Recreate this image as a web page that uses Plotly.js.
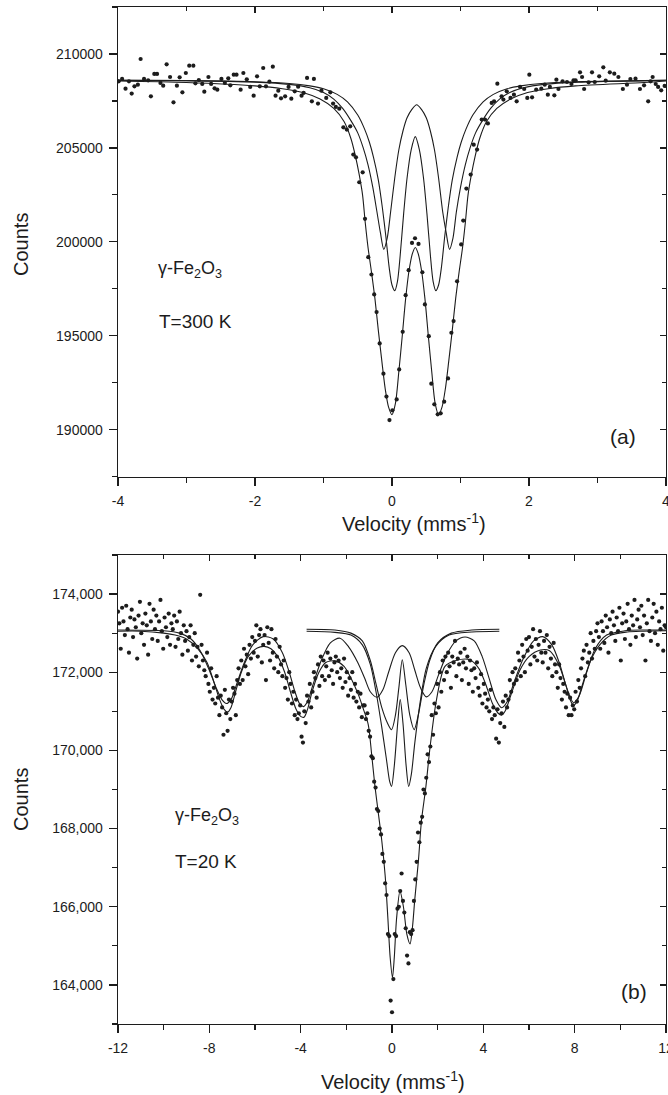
<!DOCTYPE html>
<html>
<head>
<meta charset="utf-8">
<script src="https://cdn.plot.ly/plotly-3.0.1.min.js"></script>
<style>html,body{margin:0;padding:0;background:#fff;}#chart{width:668px;height:1095px;}</style>
</head>
<body>
<div id="chart"></div>
<script>
// ---------- Panel (a): T = 300 K ----------
const velA = [-3.99,-3.94,-3.89,-3.84,-3.80,-3.76,-3.71,-3.67,-3.62,-3.56,-3.52,-3.47,-3.43,-3.38,-3.34,-3.29,-3.24,-3.19,-3.14,-3.10,
-3.06,-3.01,-2.96,-2.90,-2.87,-2.82,-2.77,-2.74,-2.68,-2.64,-2.59,-2.55,-2.49,-2.44,-2.39,-2.36,-2.31,-2.27,-2.21,-2.17,
-2.12,-2.07,-2.02,-1.97,-1.93,-1.88,-1.84,-1.79,-1.74,-1.70,-1.66,-1.62,-1.56,-1.51,-1.47,-1.42,-1.37,-1.32,-1.29,-1.24,
-1.17,-1.14,-1.08,-1.03,-0.96,-0.90,-0.86,-0.82,-0.77,-0.71,-0.66,-0.61,-0.565,-0.526,-0.478,-0.428,-0.394,-0.346,-0.30,-0.26,
-0.225,-0.18,-0.125,-0.081,-0.037,0.006,0.068,0.105,0.156,0.199,0.243,0.292,0.336,0.387,0.443,0.48,0.537,0.574,0.618,0.667,
0.711,0.762,0.818,0.867,0.899,0.95,1.01,1.04,1.086,1.149,1.193,1.242,1.31,1.358,1.40,1.455,1.49,1.538,1.60,1.626,
1.675,1.73,1.78,1.82,1.87,1.93,1.975,2.005,2.045,2.105,2.18,2.23,2.275,2.305,2.37,2.40,2.43,2.49,2.555,2.62,
2.65,2.68,2.745,2.775,2.805,2.87,2.92,2.96,3.025,3.085,3.12,3.18,3.245,3.305,3.37,3.43,3.48,3.555,3.62,3.68,
3.74,3.775,3.805,3.85,3.885,3.93,3.98];
const countsA = [208545,208669,208155,208545,207889,208279,208367,209732,208669,208598,207747,208935,208935,208456,208314,209449,208775,207428,208314,208757,
207960,208988,209378,209378,208438,208615,208403,207995,208775,208403,208172,208101,208669,208456,208704,208332,208899,208899,208101,208988,
208651,208243,207782,208811,208279,209254,208279,208527,209325,207782,208048,207640,207747,208243,207622,208013,208261,207782,207924,208722,
207479,208670,207357,208048,207660,207958,207357,207181,207090,206096,205974,206150,204644,204500,203170,203702,201224,199181,198261,197200,
196260,194590,192980,191760,190510,191030,191610,193210,195210,197160,198490,199940,200190,199890,198380,196670,194980,192450,191350,190815,
190870,191490,192730,195160,195780,197900,199860,201130,202835,203580,205170,204910,206510,206510,206300,207394,207480,208420,207745,207570,
208010,207660,207835,207479,208245,208136,207658,208899,207693,208101,208154,208367,207835,208243,207800,208633,208136,208544,208509,208400,
208597,208597,209023,208775,208136,208491,209023,208509,208810,209289,208580,209023,208952,208775,208136,208367,208668,208686,208136,208331,
207481,208544,208775,208400,208243,208065,208300];

// total fit (a)
const fitTotVelA = [-4,-3,-2,-1.6,-1.3,-1.05,-0.85,-0.7,-0.6,-0.53,-0.48,-0.43,-0.39,-0.35,-0.3,-0.25,-0.2,-0.15,-0.1,-0.05,
0,0.05,0.1,0.15,0.2,0.25,0.3,0.34,0.38,0.43,0.48,0.53,0.58,0.63,0.68,0.73,0.78,0.83,0.88,0.93,
0.98,1.03,1.07,1.11,1.16,1.21,1.28,1.38,1.53,1.73,1.98,2.28,2.68,3.68,4];
const fitTotCntA = [208560,208480,208300,208150,207950,207600,207100,206400,205500,204500,203600,202500,201000,199700,198400,197000,195300,193700,192200,191200,
190800,191400,193100,195000,197000,198500,199400,199700,199400,198500,197000,195000,193100,191400,190800,191200,192200,193700,195300,197000,
198400,199700,201000,202500,203600,204500,205500,206400,207100,207600,207950,208150,208300,208480,208560];
// sub-spectrum 1 (a) – wider doublet
const fitS1VelA = [-4,-3,-2,-1.5,-1.2,-1.0,-0.85,-0.72,-0.6,-0.5,-0.42,-0.35,-0.28,-0.22,-0.17,-0.12,-0.07,-0.02,0.04,0.1,
0.16,0.22,0.29,0.36,0.43,0.5,0.56,0.62,0.68,0.74,0.79,0.84,0.89,0.94,1.0,1.07,1.14,1.22,1.32,1.44,
1.57,1.72,1.92,2.22,2.72,3.72,4];
const fitS1CntA = [208600,208580,208500,208380,208200,207950,207600,207100,206450,205800,205000,204100,202900,201600,200500,199600,200200,201600,203400,204900,
205900,206600,207050,207300,207050,206600,205900,204900,203400,201600,200500,199600,200200,201600,202900,204100,205000,205800,206450,207100,
207600,207950,208200,208380,208500,208580,208600];
// sub-spectrum 2 (a) – narrower doublet
const fitS2VelA = [-4,-3,-2,-1.5,-1.2,-1.0,-0.8,-0.65,-0.5,-0.4,-0.33,-0.27,-0.2,-0.14,-0.09,-0.04,0,0.04,0.08,0.12,
0.17,0.22,0.28,0.34,0.40,0.46,0.51,0.56,0.60,0.64,0.68,0.72,0.77,0.82,0.88,0.95,1.01,1.08,1.18,1.33,
1.48,1.68,1.88,2.18,2.68,3.68,4];
const fitS2CntA = [208600,208580,208520,208430,208300,208150,207850,207450,206750,206000,205300,204500,203300,201800,200300,198600,197700,197400,197900,199300,
201500,203400,204900,205600,204900,203400,201500,199300,197900,197400,197700,198600,200300,201800,203300,204500,205300,206000,206750,207450,
207850,208150,208300,208430,208520,208580,208600];

// ---------- Panel (b): T = 20 K ----------
const velB = [-12,-11.94,-11.88,-11.82,-11.76,-11.7,-11.64,-11.58,-11.52,-11.46,
-11.4,-11.34,-11.28,-11.22,-11.16,-11.1,-11.04,-10.98,-10.92,-10.86,
-10.8,-10.74,-10.68,-10.62,-10.56,-10.5,-10.44,-10.38,-10.32,-10.26,
-10.2,-10.14,-10.08,-10.02,-9.96,-9.9,-9.84,-9.78,-9.72,-9.66,
-9.6,-9.54,-9.48,-9.42,-9.36,-9.3,-9.24,-9.18,-9.12,-9.06,
-9,-8.94,-8.88,-8.82,-8.76,-8.7,-8.64,-8.58,-8.52,-8.46,
-8.4,-8.34,-8.28,-8.22,-8.16,-8.1,-8.04,-7.98,-7.92,-7.86,
-7.8,-7.74,-7.68,-7.62,-7.56,-7.5,-7.44,-7.38,-7.32,-7.26,
-7.2,-7.14,-7.08,-7.02,-6.96,-6.9,-6.84,-6.78,-6.72,-6.66,
-6.6,-6.54,-6.48,-6.42,-6.36,-6.3,-6.24,-6.18,-6.12,-6.06,
-6,-5.94,-5.88,-5.82,-5.76,-5.7,-5.64,-5.58,-5.52,-5.46,
-5.4,-5.34,-5.28,-5.22,-5.16,-5.1,-5.04,-4.98,-4.92,-4.86,
-4.8,-4.74,-4.68,-4.62,-4.56,-4.5,-4.44,-4.38,-4.32,-4.26,
-4.2,-4.14,-4.08,-4.02,-3.96,-3.9,-3.84,-3.78,-3.72,-3.66,
-3.6,-3.54,-3.48,-3.42,-3.36,-3.3,-3.24,-3.18,-3.12,-3.06,
-3,-2.94,-2.88,-2.82,-2.76,-2.7,-2.64,-2.58,-2.52,-2.46,
-2.4,-2.34,-2.28,-2.22,-2.16,-2.1,-2.04,-1.98,-1.92,-1.86,
-1.8,-1.74,-1.68,-1.62,-1.56,-1.5,-1.44,-1.38,-1.32,-1.26,
-1.2,-1.14,-1.08,-1.02,-0.96,-0.9,-0.84,-0.78,-0.72,-0.66,
-0.6,-0.54,-0.48,-0.42,-0.36,-0.3,-0.24,-0.18,-0.12,-0.06,
0,0.06,0.12,0.18,0.24,0.3,0.36,0.42,0.48,0.54,
0.6,0.66,0.72,0.78,0.84,0.9,0.96,1.02,1.08,1.14,
1.2,1.26,1.32,1.38,1.44,1.5,1.56,1.62,1.68,1.74,
1.8,1.86,1.92,1.98,2.04,2.1,2.16,2.22,2.28,2.34,
2.4,2.46,2.52,2.58,2.64,2.7,2.76,2.82,2.88,2.94,
3,3.06,3.12,3.18,3.24,3.3,3.36,3.42,3.48,3.54,
3.6,3.66,3.72,3.78,3.84,3.9,3.96,4.02,4.08,4.14,
4.2,4.26,4.32,4.38,4.44,4.5,4.56,4.62,4.68,4.74,
4.8,4.86,4.92,4.98,5.04,5.1,5.16,5.22,5.28,5.34,
5.4,5.46,5.52,5.58,5.64,5.7,5.76,5.82,5.88,5.94,
6,6.06,6.12,6.18,6.24,6.3,6.36,6.42,6.48,6.54,
6.6,6.66,6.72,6.78,6.84,6.9,6.96,7.02,7.08,7.14,
7.2,7.26,7.32,7.38,7.44,7.5,7.56,7.62,7.68,7.74,
7.8,7.86,7.92,7.98,8.04,8.1,8.16,8.22,8.28,8.34,
8.4,8.46,8.52,8.58,8.64,8.7,8.76,8.82,8.88,8.94,
9,9.06,9.12,9.18,9.24,9.3,9.36,9.42,9.48,9.54,
9.6,9.66,9.72,9.78,9.84,9.9,9.96,10.02,10.08,10.14,
10.2,10.26,10.32,10.38,10.44,10.5,10.56,10.62,10.68,10.74,
10.8,10.86,10.92,10.98,11.04,11.1,11.16,11.22,11.28,11.34,
11.4,11.46,11.52,11.58,11.64,11.7,11.76,11.82,11.88,11.94,
12];
const countsB = [173550,173250,172600,173650,173300,172950,173700,173100,172500,173400,
173600,172900,173350,173150,172350,173450,173800,173000,173250,172700,
173500,173200,172450,173750,173300,172850,173600,173100,173450,172800,
173300,173850,173050,172600,173400,173150,172900,173500,172700,173250,
173100,173450,172650,173300,172850,173550,173000,172450,173200,172800,
173050,172550,172900,173200,172300,172700,173000,172400,172650,172150,
173980,172700,172300,172050,171900,172500,171700,171500,172100,171300,
171600,171200,171900,171350,170900,171400,171100,170400,171550,170950,
170500,171300,170800,171250,171600,171450,170900,171800,172100,171700,
172300,171800,172600,172150,172450,171950,172700,172350,172900,172500,
172800,173200,172400,172950,173100,172250,172700,172950,171800,173150,
172750,172300,173100,172500,172100,172850,172400,172000,172650,172200,
171900,172300,171600,171850,171300,172000,171700,171200,171500,170900,
171300,170800,170950,171150,170350,170200,171000,170700,171400,171250,
171700,171100,171500,172000,171850,171350,172200,171650,172400,171900,
172300,171800,172150,172500,171900,172350,172050,171700,172250,172400,
172000,172300,171850,172100,171600,172350,171750,172000,171400,171850,
171550,172000,171350,171700,171250,171500,171100,171450,170850,171150,
171150,170800,170950,170500,170350,169850,169800,169200,169050,168500,
168450,168000,167850,167350,167150,166600,166300,165300,165250,163600,
163300,164150,165300,165250,165950,166000,166400,166850,166150,165850,
165450,164750,164550,165350,165300,165400,166150,166700,167150,167900,
167650,168150,168300,169000,168900,169300,169900,169700,170100,170900,
170400,171200,170950,171700,171100,172000,171500,172300,171800,172400,
172000,172500,172150,171600,172400,172250,172800,171900,172350,172200,
172500,171800,172250,172600,172100,172400,171700,172300,172050,171500,
172100,171850,172250,171600,171400,171950,171200,171700,171450,171100,
171300,171000,171550,170800,171100,170900,170300,171050,170200,170700,
170950,171250,170600,171400,171100,171300,171800,171500,172000,171700,
172100,171800,172500,172300,171900,172700,172400,172000,172850,172550,
172900,172200,172650,173100,172400,172850,172300,172700,173050,172500,
172250,172800,172500,172950,172100,172650,172350,171900,172750,172200,
172000,171600,172200,171850,171300,171700,171500,171100,171450,170900,
171350,170900,171150,171050,171500,171250,171800,171600,172100,172350,
172550,171900,172700,172250,172500,173000,172350,172800,172600,173050,
173250,172900,172600,173300,173050,172750,173450,173150,172500,173350,
173000,173550,173200,172800,173400,173050,173650,172300,173250,173500,
172850,173300,173750,173100,172700,173450,173200,173850,172900,173350,
173600,173150,173700,172950,173450,172300,173250,173850,173050,172800,
173400,173750,173000,173550,172700,173300,173100,173650,172550,173200,
173150];

// total fit (b)
const fitTotVelB = [-12,-11,-10,-9.5,-9.0,-8.5,-8.1,-7.8,-7.55,-7.35,-7.2,-7.05,-6.85,-6.6,-6.3,-5.9,-5.6,-5.3,-5.0,-4.7,
-4.45,-4.2,-4.0,-3.85,-3.7,-3.5,-3.2,-2.9,-2.5,-2.1,-1.8,-1.47,-1.25,-1.04,-0.89,-0.75,-0.6,-0.45,-0.3,-0.18,
-0.08,0.02,0.1,0.2,0.35,0.5,0.65,0.79,0.9,1.0,1.16,1.29,1.48,1.67,1.95,2.32,2.8,3.4,3.8,4.1,
4.4,4.65,4.8,4.95,5.2,5.6,6.0,6.5,6.9,7.3,7.6,7.8,7.95,8.1,8.35,8.7,9.1,9.6,10.3,11,12];
const fitTotCntB = [173050,173050,173000,172950,172850,172600,172250,171750,171300,171050,170980,171100,171500,172000,172400,172620,172660,172600,172400,172000,
171500,171050,170870,170850,171050,171500,172000,172250,172290,172150,171850,171420,171050,170660,169890,169100,168400,167700,166800,165700,
164700,164190,164700,165700,166400,166000,165300,165050,165500,166200,167200,168200,169050,170100,171300,172150,172300,172320,172100,171700,
171200,170950,170900,171000,171400,172050,172400,172570,172550,172200,171700,171300,171150,171250,171700,172300,172700,172950,173030,173050,173060];
// magnetic sextet sub-spectrum (b)
const fitSextVelB = [-12,-10,-9.3,-8.8,-8.4,-8.0,-7.7,-7.45,-7.25,-7.05,-6.8,-6.5,-6.1,-5.64,-5.2,-4.8,-4.5,-4.25,-4.05,-3.88,
-3.7,-3.45,-3.1,-2.7,-2.28,-1.9,-1.5,-1.2,-0.95,-0.65,-0.4,-0.15,0.15,0.45,0.75,1.0,1.25,1.5,1.75,2.05,
2.4,2.8,3.2,3.6,3.95,4.25,4.55,4.8,5.05,5.35,5.75,6.2,6.6,7.0,7.35,7.65,7.95,8.2,8.5,8.9,
9.4,10.2,11,12];
const fitSextCntB = [173080,173060,173000,172850,172550,172050,171600,171300,171200,171300,171700,172200,172700,172910,172850,172500,172000,171500,171200,171120,
171250,171700,172300,172750,172870,172650,172250,171850,171500,171360,171550,172000,172500,172680,172500,172050,171600,171370,171500,171950,
172450,172800,172900,172800,172400,171850,171300,171090,171250,171750,172350,172800,172910,172700,172200,171600,171220,171400,171950,172600,
172950,173060,173080,173080];
// doublet sub-spectra (b)
const fitDb1VelB = [-3.74,-2.5,-1.8,-1.3,-0.95,-0.7,-0.45,-0.2,-0.02,0.15,0.3,0.45,0.6,0.78,0.97,1.15,1.4,1.65,2.0,2.6,3.5,4.7];
const fitDb1CntB = [173100,173080,173000,172800,172300,171700,171100,170700,170530,170900,171600,172320,171700,170900,170530,170900,171700,172300,172750,173000,173080,173100];
const fitDb2VelB = [-3.74,-2.5,-1.8,-1.3,-0.95,-0.7,-0.45,-0.25,-0.1,-0.02,0.1,0.25,0.36,0.48,0.62,0.73,0.85,1.0,1.25,1.5,1.9,2.5,3.5,4.7];
const fitDb2CntB = [173050,173020,172950,172700,172200,171500,170600,169800,169200,169080,169600,170700,171300,170700,169600,169080,169400,170200,171300,172100,172650,172950,173030,173050];

// ---------- ticks ----------
const xTicksA = [-4,-2,0,2,4];
const xTickTextA = ['-4','-2','0','2','4'];
const yTicksA = [190000,195000,200000,205000,210000];
const yTickTextA = ['190000','195000','200000','205000','210000'];
const xTicksB = [-12,-8,-4,0,4,8,12];
const xTickTextB = ['-12','-8','-4','0','4','8','12'];
const yTicksB = [164000,166000,168000,170000,172000,174000];
const yTickTextB = ['164,000','166,000','168,000','170,000','172,000','174,000'];

// ---------- drawing ----------
const INK = '#1c1c1c';
const FONT = 'Liberation Sans, Arial, Helvetica, sans-serif';
function fitLine(x, y, xa, ya) {
  return {x: x, y: y, xaxis: xa, yaxis: ya, mode: 'lines', type: 'scatter',
    line: {color: INK, width: 1.1, shape: 'spline', smoothing: 0.8}, hoverinfo: 'skip'};
}
function dots(x, y, xa, ya) {
  return {x: x, y: y, xaxis: xa, yaxis: ya, mode: 'markers', type: 'scatter',
    marker: {color: INK, size: 4.2}, hoverinfo: 'skip'};
}
const traces = [
  fitLine(fitTotVelA, fitTotCntA, 'x', 'y'),
  fitLine(fitS1VelA, fitS1CntA, 'x', 'y'),
  fitLine(fitS2VelA, fitS2CntA, 'x', 'y'),
  dots(velA, countsA, 'x', 'y'),
  fitLine(fitTotVelB, fitTotCntB, 'x2', 'y2'),
  fitLine(fitSextVelB, fitSextCntB, 'x2', 'y2'),
  fitLine(fitDb1VelB, fitDb1CntB, 'x2', 'y2'),
  fitLine(fitDb2VelB, fitDb2CntB, 'x2', 'y2'),
  dots(velB, countsB, 'x2', 'y2'),
  {x: [], y: [], xaxis: 'x3', yaxis: 'y', type: 'scatter', mode: 'markers', hoverinfo: 'skip'},
  {x: [], y: [], xaxis: 'x', yaxis: 'y3', type: 'scatter', mode: 'markers', hoverinfo: 'skip'},
  {x: [], y: [], xaxis: 'x4', yaxis: 'y2', type: 'scatter', mode: 'markers', hoverinfo: 'skip'},
  {x: [], y: [], xaxis: 'x2', yaxis: 'y4', type: 'scatter', mode: 'markers', hoverinfo: 'skip'}
];

function mainAxis(extra) {
  return Object.assign({
    showline: true, linecolor: INK, linewidth: 1.4, mirror: true,
    ticks: 'outside', ticklen: 8, tickwidth: 1.2, tickcolor: INK,
    showgrid: false, zeroline: false, fixedrange: true, ticklabeloverflow: 'allow',
    tickfont: {family: FONT, size: 14, color: INK}, ticklabelstandoff: 3
  }, extra);
}
function overlayAxis(extra) {
  return Object.assign({
    showline: false, ticks: 'inside', ticklen: 6, tickwidth: 1.2, tickcolor: INK,
    showticklabels: false, showgrid: false, zeroline: false, fixedrange: true
  }, extra);
}
const domA = [0.5382, 1];
const domB = [0, 0.4612];

const layout = {
  width: 668, height: 1095,
  margin: {l: 118, r: 2, t: 7, b: 71},
  paper_bgcolor: '#ffffff', plot_bgcolor: '#ffffff',
  showlegend: false,
  font: {family: FONT, size: 14, color: INK},
  xaxis: mainAxis({domain: [0, 1], anchor: 'y', range: [-4, 4], tickmode: 'array', tickvals: xTicksA, ticktext: xTickTextA,
    minor: {tickmode: 'linear', tick0: -4, dtick: 1, ticks: 'outside', ticklen: 5, tickwidth: 1.2, tickcolor: INK}}),
  yaxis: mainAxis({domain: domA, anchor: 'x', range: [187500, 212500], tickmode: 'array', tickvals: yTicksA, ticktext: yTickTextA,
    minor: {tickmode: 'linear', tick0: 187500, dtick: 2500, ticks: 'outside', ticklen: 5, tickwidth: 1.2, tickcolor: INK}}),
  xaxis2: mainAxis({domain: [0, 1], anchor: 'y2', range: [-12, 12], tickmode: 'array', tickvals: xTicksB, ticktext: xTickTextB,
    minor: {tickmode: 'linear', tick0: -12, dtick: 2, ticks: 'outside', ticklen: 5, tickwidth: 1.2, tickcolor: INK}}),
  yaxis2: mainAxis({domain: domB, anchor: 'x2', range: [163000, 175000], tickmode: 'array', tickvals: yTicksB, ticktext: yTickTextB,
    minor: {tickmode: 'linear', tick0: 163000, dtick: 1000, ticks: 'outside', ticklen: 5, tickwidth: 1.2, tickcolor: INK}}),
  xaxis3: overlayAxis({overlaying: 'x', side: 'top', anchor: 'y', range: [-4, 4], tickmode: 'array', tickvals: xTicksA,
    minor: {tickmode: 'linear', tick0: -4, dtick: 1, ticks: 'inside', ticklen: 4, tickwidth: 1.2, tickcolor: INK}}),
  yaxis3: overlayAxis({overlaying: 'y', side: 'right', anchor: 'x', range: [187500, 212500], tickmode: 'array', tickvals: yTicksA,
    minor: {tickmode: 'linear', tick0: 187500, dtick: 2500, ticks: 'inside', ticklen: 4, tickwidth: 1.2, tickcolor: INK}}),
  xaxis4: overlayAxis({overlaying: 'x2', side: 'top', anchor: 'y2', range: [-12, 12], tickmode: 'array', tickvals: xTicksB,
    minor: {tickmode: 'linear', tick0: -12, dtick: 2, ticks: 'inside', ticklen: 4, tickwidth: 1.2, tickcolor: INK}}),
  yaxis4: overlayAxis({overlaying: 'y2', side: 'right', anchor: 'x2', range: [163000, 175000], tickmode: 'array', tickvals: yTicksB,
    minor: {tickmode: 'linear', tick0: 163000, dtick: 1000, ticks: 'inside', ticklen: 4, tickwidth: 1.2, tickcolor: INK}}),
  annotations: [
    {xref: 'paper', yref: 'paper', x: 0.540, y: 0.4936, xanchor: 'center', yanchor: 'middle', showarrow: false,
      text: 'Velocity (mms<sup>-1</sup>)', font: {family: FONT, size: 20, color: INK}},
    {xref: 'paper', yref: 'paper', x: 0.502, y: -0.056, xanchor: 'center', yanchor: 'middle', showarrow: false,
      text: 'Velocity (mms<sup>-1</sup>)', font: {family: FONT, size: 20, color: INK}},
    {xref: 'paper', yref: 'paper', x: -0.177, y: 0.766, xanchor: 'center', yanchor: 'middle', showarrow: false, textangle: -90,
      text: 'Counts', font: {family: FONT, size: 20, color: INK}},
    {xref: 'paper', yref: 'paper', x: -0.177, y: 0.2203, xanchor: 'center', yanchor: 'middle', showarrow: false, textangle: -90,
      text: 'Counts', font: {family: FONT, size: 20, color: INK}},
    {xref: 'paper', yref: 'paper', x: 0.070, y: 0.7414, xanchor: 'left', yanchor: 'middle', showarrow: false,
      text: 'γ-Fe<sub>2</sub>O<sub>3</sub>', font: {family: FONT, size: 18, color: INK}},
    {xref: 'paper', yref: 'paper', x: 0.072, y: 0.6912, xanchor: 'left', yanchor: 'middle', showarrow: false,
      text: 'T=300 K', font: {family: FONT, size: 19, color: INK}},
    {xref: 'paper', yref: 'paper', x: 0.895, y: 0.5772, xanchor: 'left', yanchor: 'middle', showarrow: false,
      text: '(a)', font: {family: FONT, size: 21, color: INK}},
    {xref: 'paper', yref: 'paper', x: 0.100, y: 0.2045, xanchor: 'left', yanchor: 'middle', showarrow: false,
      text: 'γ-Fe<sub>2</sub>O<sub>3</sub>', font: {family: FONT, size: 18, color: INK}},
    {xref: 'paper', yref: 'paper', x: 0.100, y: 0.1593, xanchor: 'left', yanchor: 'middle', showarrow: false,
      text: 'T=20 K', font: {family: FONT, size: 19, color: INK}},
    {xref: 'paper', yref: 'paper', x: 0.915, y: 0.0324, xanchor: 'left', yanchor: 'middle', showarrow: false,
      text: '(b)', font: {family: FONT, size: 21, color: INK}}
  ]
};

Plotly.newPlot('chart', traces, layout, {staticPlot: true, displayModeBar: false});
</script>
</body>
</html>
